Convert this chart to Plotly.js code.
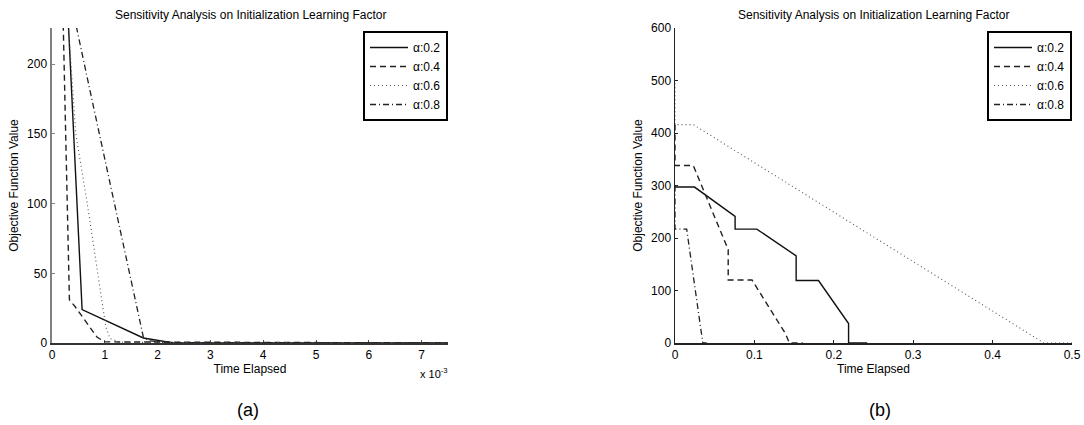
<!DOCTYPE html>
<html>
<head>
<meta charset="utf-8">
<script src="https://cdn.plot.ly/plotly-3.0.1.min.js"></script>
<style>
  html, body { margin: 0; padding: 0; background: #fff; }
  #chart { width: 1084px; height: 425px; }
</style>
</head>
<body>
<div id="chart"></div>
<script>
// ---------- Data (a): time elapsed in units of 10^-3 ----------
const seriesNames = ["α:0.2", "α:0.4", "α:0.6", "α:0.8"];

const a_x_02 = [0.22, 0.57, 1.73, 1.98, 2.3, 7.5];
const a_y_02 = [300, 24, 3.6, 1.9, 0, 0];

const a_x_04 = [0.17, 0.33, 0.44, 0.85, 1.0, 7.5];
const a_y_04 = [300, 31, 26, 4.3, 0.8, 0];

const a_x_06 = [0.27, 0.45, 0.66, 1.02, 1.10, 1.3, 7.5];
const a_y_06 = [250, 150, 102, 11.5, 3.2, 0.5, 0];

const a_x_08 = [0.05, 0.72, 1.73, 1.85, 2.3, 7.5];
const a_y_08 = [300, 181, 4.3, 1.5, 0.3, 0];

// ---------- Data (b): time elapsed ----------
const b_x_02 = [0, 0.0246, 0.0757, 0.0757, 0.103, 0.1526, 0.1526, 0.1807, 0.2186, 0.2186, 0.242];
const b_y_02 = [297, 297, 241, 217, 217, 166, 119, 119, 37, 0, 0];

const b_x_04 = [0, 0, 0.023, 0.067, 0.067, 0.097, 0.139, 0.144, 0.161];
const b_y_04 = [416, 338, 338, 178, 120, 120, 18, 0, 0];

const b_x_06 = [0, 0, 0.023, 0.4645, 0.5];
const b_y_06 = [495, 416, 416, 0, 0];

const b_x_08 = [0, 0, 0.0147, 0.0336, 0.035, 0.04];
const b_y_08 = [300, 217, 217, 15, 0, 0];

// ---------- Tick labels ----------
const a_xticks = [0, 1, 2, 3, 4, 5, 6, 7];
const a_yticks = [0, 50, 100, 150, 200];
const b_xticks = [0, 0.1, 0.2, 0.3, 0.4, 0.5];
const b_xticklabels = ["0", "0.1", "0.2", "0.3", "0.4", "0.5"];
const b_yticks = [0, 100, 200, 300, 400, 500, 600];

const titleText = "Sensitivity Analysis on Initialization Learning Factor";

// ---------- Styles ----------
const styles = [
  {color: "#111", width: 1.4, dash: "solid"},
  {color: "#222", width: 1.4, dash: "6px,4px"},
  {color: "#555", width: 1.1, dash: "1px,3px"},
  {color: "#222", width: 1.3, dash: "6px,3px,1px,3px"}
];

const aX = [a_x_02, a_x_04, a_x_06, a_x_08];
const aY = [a_y_02, a_y_04, a_y_06, a_y_08];
const bX = [b_x_02, b_x_04, b_x_06, b_x_08];
const bY = [b_y_02, b_y_04, b_y_06, b_y_08];

const traces = [];
for (let i = 0; i < 4; i++) {
  traces.push({
    x: aX[i], y: aY[i], type: "scatter", mode: "lines",
    name: seriesNames[i], line: styles[i], xaxis: "x", yaxis: "y",
    legend: "legend", cliponaxis: true, hoverinfo: "skip"
  });
}
for (let i = 0; i < 4; i++) {
  traces.push({
    x: bX[i], y: bY[i], type: "scatter", mode: "lines",
    name: seriesNames[i], line: styles[i], xaxis: "x2", yaxis: "y2",
    legend: "legend2", cliponaxis: true, hoverinfo: "skip"
  });
}

// pixel -> paper helpers (plot area: left 52, right 1072, top 28, bottom 343)
const ML = 52, MR = 12, MT = 28, MB = 82, W = 1084, H = 425;
const PW = W - ML - MR, PH = H - MT - MB;
const px = v => (v - ML) / PW;
const py = v => (H - MB - v) / PH;

const FONT = "Liberation Sans, Arial, Helvetica, sans-serif";
const tickFont = {family: FONT, size: 12, color: "#000"};
const axTitleFont = {family: FONT, size: 12, color: "#000"};

const axisCommon = {
  showgrid: false, zeroline: false, showline: true, mirror: false,
  ticks: "inside", ticklen: 3, tickfont: tickFont, fixedrange: true,
  automargin: false, layer: "below traces"
};

const layout = {
  width: W, height: H, autosize: false,
  margin: {l: ML, r: MR, t: MT, b: MB, autoexpand: false},
  paper_bgcolor: "#fff", plot_bgcolor: "#fff",
  font: {family: FONT, color: "#000"},
  xaxis: Object.assign({}, axisCommon, {
    domain: [0, px(448)], range: [0, 7.5],
    tickvals: a_xticks, ticktext: a_xticks.map(String),
    linecolor: "#333", linewidth: 2, tickcolor: "#555",
    title: {text: "Time Elapsed", font: axTitleFont, standoff: 3}
  }),
  yaxis: Object.assign({}, axisCommon, {
    domain: [0, 1], range: [0, 226],
    tickvals: a_yticks, ticktext: a_yticks.map(String),
    linecolor: "#808080", linewidth: 2.5, tickcolor: "#808080",
    title: {text: "Objective Function Value", font: axTitleFont, standoff: 6}
  }),
  xaxis2: Object.assign({}, axisCommon, {
    domain: [px(675), 1], range: [0, 0.5], anchor: "y2",
    tickvals: b_xticks, ticktext: b_xticklabels,
    linecolor: "#222", linewidth: 1.5, tickcolor: "#222",
    title: {text: "Time Elapsed", font: axTitleFont, standoff: 3}
  }),
  yaxis2: Object.assign({}, axisCommon, {
    domain: [0, 1], range: [0, 600], anchor: "x2",
    tickvals: b_yticks, ticktext: b_yticks.map(String),
    linecolor: "#222", linewidth: 1.5, tickcolor: "#222",
    title: {text: "Objective Function Value", font: axTitleFont, standoff: 6}
  }),
  legend: {
    x: px(363), y: py(31), xanchor: "left", yanchor: "top",
    bordercolor: "#000", borderwidth: 2, bgcolor: "#fff",
    font: {family: FONT, size: 12, color: "#000"},
    itemwidth: 38, tracegroupgap: 0
  },
  legend2: {
    x: px(987), y: py(31), xanchor: "left", yanchor: "top",
    bordercolor: "#000", borderwidth: 2, bgcolor: "#fff",
    font: {family: FONT, size: 12, color: "#000"},
    itemwidth: 38, tracegroupgap: 0
  },
  showlegend: true,
  annotations: [
    {text: titleText, xref: "paper", yref: "paper", x: px(250), y: py(15),
     xanchor: "center", yanchor: "middle", showarrow: false,
     font: {family: FONT, size: 12, color: "#000"}},
    {text: titleText, xref: "paper", yref: "paper", x: px(873), y: py(15),
     xanchor: "center", yanchor: "middle", showarrow: false,
     font: {family: FONT, size: 12, color: "#000"}},
    {text: "x 10<sup>-3</sup>", xref: "paper", yref: "paper", x: px(450), y: py(373),
     xanchor: "right", yanchor: "middle", showarrow: false,
     font: {family: FONT, size: 11, color: "#000"}},
    {text: "(a)", xref: "paper", yref: "paper", x: px(248), y: py(410),
     xanchor: "center", yanchor: "middle", showarrow: false,
     font: {family: FONT, size: 18, color: "#000"}},
    {text: "(b)", xref: "paper", yref: "paper", x: px(880), y: py(410),
     xanchor: "center", yanchor: "middle", showarrow: false,
     font: {family: FONT, size: 18, color: "#000"}}
  ]
};

Plotly.newPlot("chart", traces, layout, {staticPlot: true, displayModeBar: false});
</script>
</body>
</html>
